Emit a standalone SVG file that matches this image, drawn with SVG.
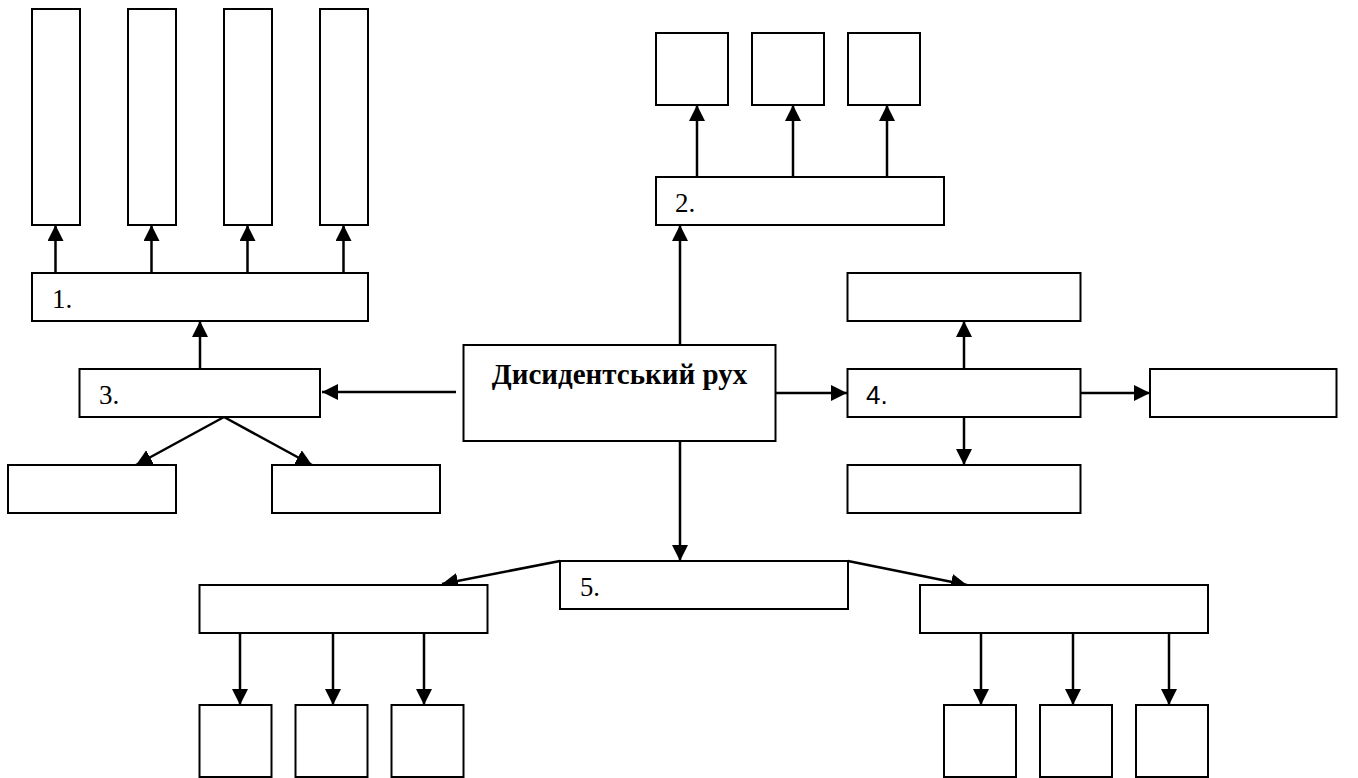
<svg xmlns="http://www.w3.org/2000/svg" width="1358" height="778" viewBox="0 0 1358 778">
<style>
.b{fill:#fff;stroke:#000;stroke-width:2}
.c{fill:none;stroke:#000;stroke-width:2.5;marker-end:url(#ah)}
.n{font-family:"Liberation Serif","Times New Roman",serif;font-size:27px;fill:#000}
.s{font-family:"Liberation Sans",Arial,sans-serif;font-size:26px;fill:#000}
.t{font-family:"Liberation Serif","Times New Roman",serif;font-size:29px;font-weight:bold;fill:#000}
</style>
<defs>
<marker id="ah" markerUnits="userSpaceOnUse" markerWidth="18" markerHeight="18" refX="16" refY="8" orient="auto">
<path d="M0,0 L16,8 L0,16 Z" fill="#000"/>
</marker>
</defs>
<rect width="1358" height="778" fill="#fff"/>
<g id="connectors">
<line class="c" x1="55.5" y1="273" x2="55.5" y2="225"/>
<line class="c" x1="151.5" y1="273" x2="151.5" y2="225"/>
<line class="c" x1="247.5" y1="273" x2="247.5" y2="225"/>
<line class="c" x1="343.5" y1="273" x2="343.5" y2="225"/>
<line class="c" x1="200" y1="369" x2="200" y2="321"/>
<line class="c" x1="456" y1="392" x2="322" y2="392"/>
<line class="c" x1="224" y1="417" x2="136" y2="465"/>
<line class="c" x1="224" y1="417" x2="312" y2="465"/>
<line class="c" x1="680" y1="345" x2="680" y2="225"/>
<line class="c" x1="697" y1="177" x2="697" y2="105"/>
<line class="c" x1="793" y1="177" x2="793" y2="105"/>
<line class="c" x1="887" y1="177" x2="887" y2="105"/>
<line class="c" x1="775" y1="393" x2="847" y2="393"/>
<line class="c" x1="964" y1="369" x2="964" y2="321"/>
<line class="c" x1="964" y1="417" x2="964" y2="465"/>
<line class="c" x1="1081" y1="393" x2="1150" y2="393"/>
<line class="c" x1="680" y1="441" x2="680" y2="561"/>
<line class="c" x1="560" y1="561" x2="442" y2="584"/>
<line class="c" x1="848" y1="561" x2="967" y2="585"/>
<line class="c" x1="240" y1="633" x2="240" y2="705"/>
<line class="c" x1="333" y1="633" x2="333" y2="705"/>
<line class="c" x1="424" y1="633" x2="424" y2="705"/>
<line class="c" x1="981" y1="633" x2="981" y2="705"/>
<line class="c" x1="1073" y1="633" x2="1073" y2="705"/>
<line class="c" x1="1169" y1="633" x2="1169" y2="705"/>
</g>
<g id="center"><rect class="b" x="463.5" y="345" width="312" height="96"/><text class="t" x="619.5" y="384" text-anchor="middle">Дисидентський рух</text></g>
<g id="n1"><rect class="b" x="32" y="273" width="336" height="48"/><text class="n" x="52" y="308">1.</text></g>
<g id="n1a"><rect class="b" x="32" y="9" width="48" height="216"/></g>
<g id="n1b"><rect class="b" x="128" y="9" width="48" height="216"/></g>
<g id="n1c"><rect class="b" x="224" y="9" width="48" height="216"/></g>
<g id="n1d"><rect class="b" x="320" y="9" width="48" height="216"/></g>
<g id="n2"><rect class="b" x="656" y="177" width="288" height="48"/><text class="n" x="675" y="212">2.</text></g>
<g id="n2a"><rect class="b" x="656" y="33" width="72" height="72"/></g>
<g id="n2b"><rect class="b" x="752" y="33" width="72" height="72"/></g>
<g id="n2c"><rect class="b" x="848" y="33" width="72" height="72"/></g>
<g id="n3"><rect class="b" x="79.5" y="369" width="240.5" height="48"/><text class="n" x="99" y="404">3.</text></g>
<g id="n3a"><rect class="b" x="8" y="465" width="168" height="48"/></g>
<g id="n3b"><rect class="b" x="272" y="465" width="168" height="48"/></g>
<g id="n4"><rect class="b" x="847.5" y="369" width="233" height="48"/><text class="s" x="866" y="404">4.</text></g>
<g id="n4a"><rect class="b" x="847.5" y="273" width="233" height="48"/></g>
<g id="n4b"><rect class="b" x="847.5" y="465" width="233" height="48"/></g>
<g id="n4c"><rect class="b" x="1150" y="369" width="186.5" height="48"/></g>
<g id="n5"><rect class="b" x="560" y="561" width="288" height="48"/><text class="n" x="580" y="596" textLength="20" lengthAdjust="spacingAndGlyphs">5.</text></g>
<g id="n5l"><rect class="b" x="199.5" y="585" width="288" height="48"/></g>
<g id="n5la"><rect class="b" x="199.5" y="705" width="72" height="72"/></g>
<g id="n5lb"><rect class="b" x="295.5" y="705" width="72" height="72"/></g>
<g id="n5lc"><rect class="b" x="391.5" y="705" width="72" height="72"/></g>
<g id="n5r"><rect class="b" x="920" y="585" width="288" height="48"/></g>
<g id="n5ra"><rect class="b" x="944" y="705" width="72" height="72"/></g>
<g id="n5rb"><rect class="b" x="1040" y="705" width="72" height="72"/></g>
<g id="n5rc"><rect class="b" x="1136" y="705" width="72" height="72"/></g>
</svg>
